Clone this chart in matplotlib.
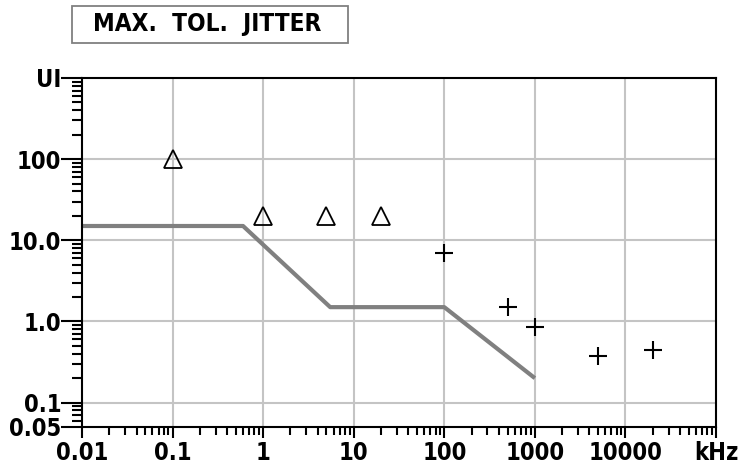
import numpy as np
import matplotlib.pyplot as plt
from matplotlib.patches import Rectangle
from matplotlib.ticker import FixedLocator, LogLocator, NullFormatter

plt.rcParams['font.family'] = ['DejaVu Sans']
plt.rcParams['font.weight'] = 'bold'
plt.rcParams['font.stretch'] = 'condensed'

# 容限模板（灰线）
mask_f = [0.01, 0.6, 5.5, 100, 1000]
mask_ui = [15, 15, 1.5, 1.5, 0.2]

# 测量点
tri_f = [0.1, 1, 5, 20]
tri_ui = [100, 20, 20, 20]
cross_f = [100, 500, 1000, 5000, 20000]
cross_ui = [7, 1.5, 0.85, 0.38, 0.45]

xticks = [0.01, 0.1, 1, 10, 100, 1000, 10000, 100000]
xlabels = ['0.01', '0.1', '1', '10', '100', '1000', '10000', 'kHz']
yticks = [0.05, 0.1, 1, 10, 100, 1000]
ylabels = ['0.05', '0.1', '1.0', '10.0', '100', 'UI']

W, H = 746, 475
fig = plt.figure(figsize=(W/100, H/100), dpi=100)
ax = fig.add_axes([82/W, 1-427/H, (716-82)/W, (427-78)/H])

ax.set_xscale('log')
ax.set_yscale('log')
ax.set_xlim(0.01, 100000)
ax.set_ylim(0.05, 1000)

# 网格
for gx in xticks[1:-1]:
    ax.axvline(gx, color='#c4c4c4', lw=1.5, zorder=0)
for gy in [0.1, 1, 10, 100]:
    ax.axhline(gy, color='#c4c4c4', lw=1.5, zorder=0)

ax.plot(mask_f, mask_ui, color='#808080', lw=3, solid_capstyle='butt', zorder=2)
ax.plot(tri_f, tri_ui, linestyle='none', marker='^', ms=13, mfc='none', mec='black', mew=1.3, zorder=3)
ax.plot(cross_f, cross_ui, linestyle='none', marker='+', ms=13, mec='black', mew=1.5, zorder=3)

ax.xaxis.set_major_locator(FixedLocator(xticks))
ax.set_xticklabels(xlabels)
ax.xaxis.set_minor_locator(LogLocator(base=10, subs=np.arange(2, 10), numticks=20))
ax.xaxis.set_minor_formatter(NullFormatter())
ax.yaxis.set_major_locator(FixedLocator(yticks))
ax.set_yticklabels(ylabels)
ax.yaxis.set_minor_locator(LogLocator(base=10, subs=np.arange(2, 10), numticks=20))
ax.yaxis.set_minor_formatter(NullFormatter())

ax.tick_params(axis='x', which='major', direction='out', length=8, width=1.5, labelsize=17, pad=2)
ax.tick_params(axis='x', which='minor', direction='out', length=6, width=1.5)
ax.tick_params(axis='y', which='major', direction='out', length=15, width=1.5, labelsize=17, pad=0)
ax.tick_params(axis='y', which='minor', direction='out', length=7, width=1.5)

for sp in ax.spines.values():
    sp.set_linewidth(1.5)
    sp.set_color('black')

# 标题框
fig.patches.append(Rectangle((72/W, 1-43/H), 276/W, 37/H, transform=fig.transFigure,
                             fc='white', ec='#808080', lw=1.3))
fig.text(207/W, 1-24.5/H, 'MAX.  TOL.  JITTER', ha='center', va='center', fontsize=17.5, fontweight='bold')

fig.savefig('out.png', dpi=100)
